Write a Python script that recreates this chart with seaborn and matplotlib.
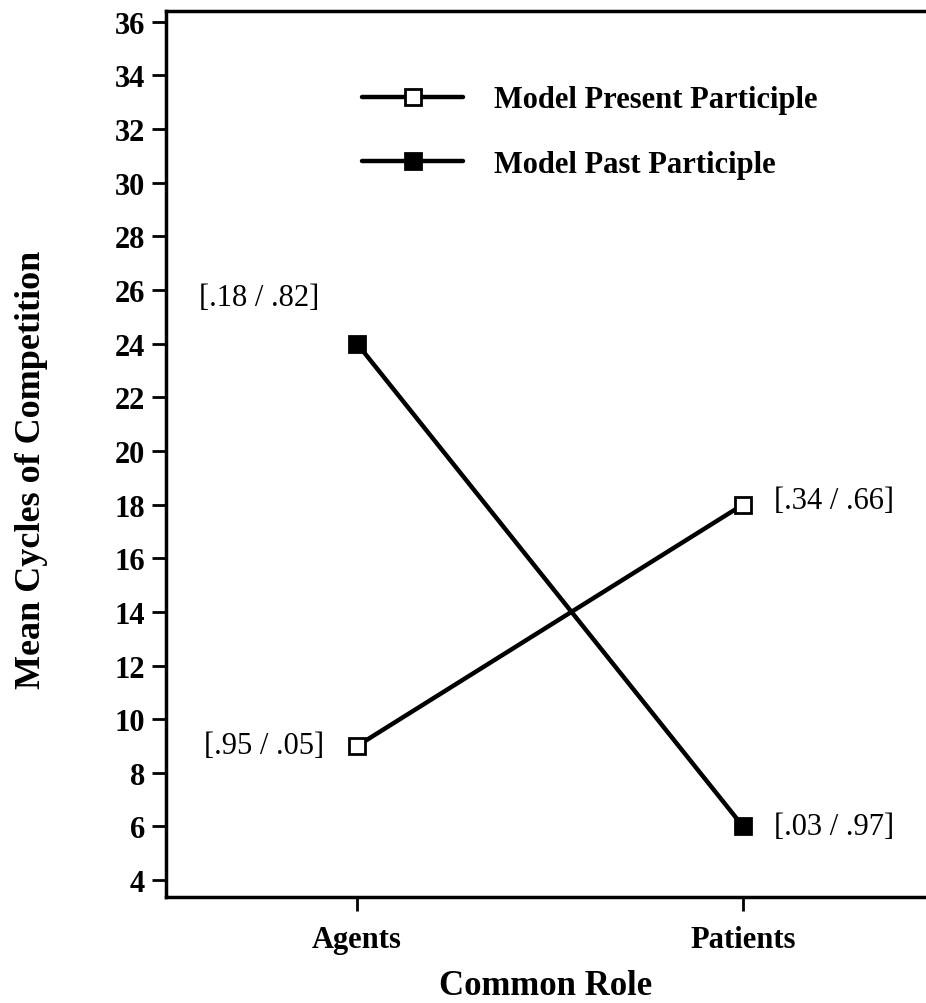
import pandas as pd
import seaborn as sns
import matplotlib.pyplot as plt

roles = ["Agents", "Patients"]
series = ["Model Present Participle", "Model Past Participle"]
present_cycles = [9, 18]
past_cycles = [24, 6]
present_props = ["[.95 / .05]", "[.34 / .66]"]
past_props = ["[.18 / .82]", "[.03 / .97]"]
y_ticks = list(range(4, 37, 2))

df = pd.DataFrame({
    "role": [0, 1, 0, 1],
    "cycles": present_cycles + past_cycles,
    "series": [series[0]] * 2 + [series[1]] * 2,
})

sns.set_style("ticks")
plt.rcParams["font.family"] = ["Liberation Serif", "DejaVu Serif"]
plt.rcParams["text.color"] = "black"
plt.rcParams["axes.labelcolor"] = "black"
plt.rcParams["xtick.color"] = "black"
plt.rcParams["ytick.color"] = "black"

fig = plt.figure(figsize=(9.26, 10.04), dpi=100)
ax = fig.add_axes([166 / 926, 1 - 898 / 1004, (926 - 166) / 926, (898 - 12) / 1004])

sns.lineplot(data=df, x="role", y="cycles", hue="series", style="series",
             markers={series[0]: "s", series[1]: "s"}, dashes=False,
             palette={series[0]: "black", series[1]: "black"},
             linewidth=3.2, markersize=12, legend=False, ax=ax)

# open square for present participle, filled for past
ax.lines[0].set_markerfacecolor("white")
for line in ax.lines[:2]:
    line.set_markeredgecolor("black")
    line.set_markeredgewidth(2)

ax.set_xlim(-0.495, 1.474)
ax.set_ylim(3.37, 36.4)
ax.set_yticks(y_ticks)
ax.set_xticks([0, 1])
ax.set_xticklabels(roles)
for lab in ax.get_xticklabels() + ax.get_yticklabels():
    lab.set_fontweight("bold")
    lab.set_fontsize(22)
ax.tick_params(axis="both", direction="out", length=10, width=2, pad=5)
ax.tick_params(axis="x", pad=10)

ax.spines["right"].set_visible(False)
for s in ["left", "bottom", "top"]:
    ax.spines[s].set_linewidth(2.5)
    ax.spines[s].set_color("black")

ax.set_xlabel("Common Role", fontsize=25, fontweight="bold", labelpad=11)
ax.set_ylabel("Mean Cycles of Competition", fontsize=26, fontweight="bold")
ax.yaxis.set_label_coords(-0.155, 0.483)

# proportions next to points
for i, (txt, val) in enumerate(zip(present_props, present_cycles)):
    off = (-24, 0) if i == 0 else (22, 3)
    ax.annotate(txt, (i, val), xytext=off, textcoords="offset points",
                ha="right" if i == 0 else "left", va="center", fontsize=22)
for i, (txt, val) in enumerate(zip(past_props, past_cycles)):
    off = (-27, 33) if i == 0 else (22, 0)
    ax.annotate(txt, (i, val), xytext=off, textcoords="offset points",
                ha="right" if i == 0 else "left", va="center", fontsize=22)

ax.legend(handles=ax.lines[:2], labels=series, loc="upper left",
          bbox_to_anchor=(0.222, 0.947), frameon=False,
          handlelength=3.3, handletextpad=1.0, labelspacing=1.15,
          prop={"size": 22, "weight": "bold"})

fig.savefig("out.png", dpi=100)
